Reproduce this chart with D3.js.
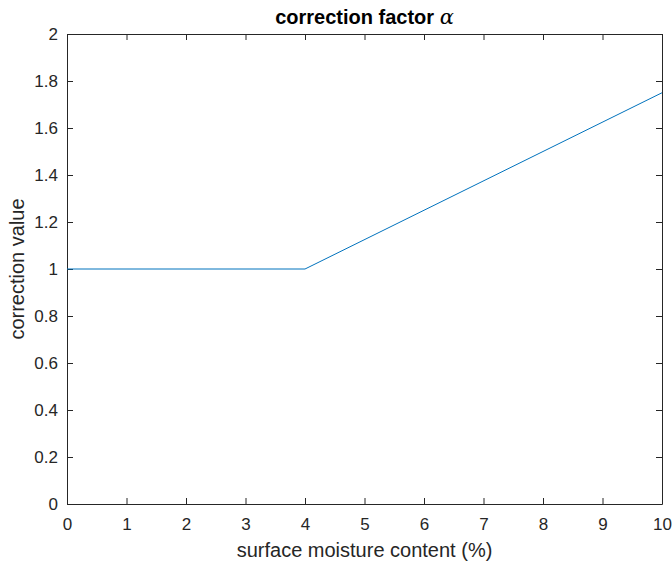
<!DOCTYPE html>
<html>
<head>
<meta charset="utf-8">
<script src="https://cdn.jsdelivr.net/npm/d3@7"></script>
<style>
  body { margin: 0; background: #fff; }
  svg { display: block; font-family: Arial, "Liberation Sans", sans-serif; }
</style>
</head>
<body>
<svg id="chart"></svg>
<script>
// data
const moisture = [0, 4, 10];
const correction = [1, 1, 1.75];
const xTicks = [0, 1, 2, 3, 4, 5, 6, 7, 8, 9, 10];
const yTicks = [0, 0.2, 0.4, 0.6, 0.8, 1, 1.2, 1.4, 1.6, 1.8, 2];

const width = 672;
const height = 563;
const margin = {top: 34, right: 10, bottom: 59, left: 67};
const ink = "#262626";

const svg = d3.select("#chart")
    .attr("width", width)
    .attr("height", height);

const x = d3.scaleLinear()
    .domain([0, 10])
    .range([margin.left, width - margin.right]);

const y = d3.scaleLinear()
    .domain([0, 2])
    .range([height - margin.bottom, margin.top]);

// axes: bottom/left with labels, top/right as box with inward ticks
function styleAxis(g) {
    g.select(".domain").attr("stroke", ink).attr("stroke-width", 1);
    g.selectAll(".tick line").attr("stroke", ink);
    g.selectAll(".tick text").attr("fill", ink).attr("font-size", 17);
}

svg.append("g")
    .attr("transform", `translate(0,${y(0)})`)
    .call(d3.axisBottom(x).tickValues(xTicks).tickFormat(d3.format("d"))
        .tickSizeInner(-6).tickSizeOuter(0).tickPadding(14))
    .call(styleAxis);

svg.append("g")
    .attr("transform", `translate(0,${y(2)})`)
    .call(d3.axisTop(x).tickValues(xTicks).tickFormat("")
        .tickSizeInner(-6).tickSizeOuter(0))
    .call(styleAxis);

svg.append("g")
    .attr("transform", `translate(${x(0)},0)`)
    .call(d3.axisLeft(y).tickValues(yTicks).tickFormat(d => String(+d.toFixed(1)))
        .tickSizeInner(-6).tickSizeOuter(0).tickPadding(9))
    .call(styleAxis);

svg.append("g")
    .attr("transform", `translate(${x(10)},0)`)
    .call(d3.axisRight(y).tickValues(yTicks).tickFormat("")
        .tickSizeInner(-6).tickSizeOuter(0))
    .call(styleAxis);

// the curve
const line = d3.line()
    .x((d, i) => x(moisture[i]))
    .y(d => y(d));

svg.append("path")
    .datum(correction)
    .attr("fill", "none")
    .attr("stroke", "#0072bd")
    .attr("stroke-width", 1)
    .attr("d", line);

// labels
svg.append("text")
    .attr("x", (x(0) + x(10)) / 2)
    .attr("y", 557)
    .attr("text-anchor", "middle")
    .attr("font-size", 20)
    .attr("fill", ink)
    .text("surface moisture content (%)");

svg.append("text")
    .attr("transform", `translate(24,${(y(0) + y(2)) / 2}) rotate(-90)`)
    .attr("text-anchor", "middle")
    .attr("font-size", 20)
    .attr("fill", ink)
    .text("correction value");

const title = svg.append("text")
    .attr("x", (x(0) + x(10)) / 2)
    .attr("y", 24)
    .attr("text-anchor", "middle")
    .attr("font-size", 20)
    .attr("font-weight", "bold")
    .attr("fill", "#000");
title.append("tspan").text("correction factor ");
title.append("tspan")
    .attr("font-family", "'DejaVu Serif', 'Liberation Serif', serif")
    .attr("font-style", "italic")
    .attr("font-weight", "normal")
    .attr("font-size", 21)
    .text("α");
</script>
</body>
</html>
